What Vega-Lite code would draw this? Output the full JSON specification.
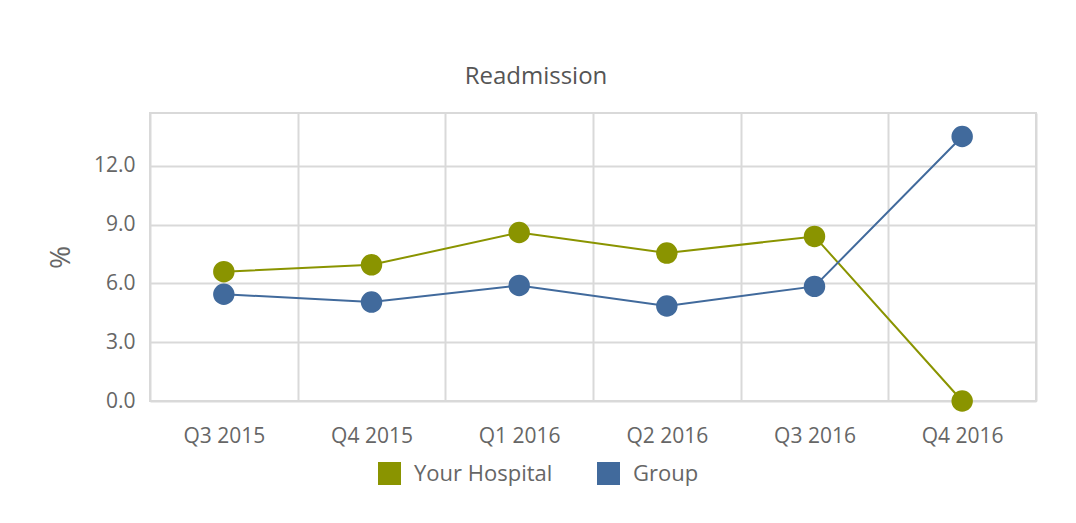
{
  "$schema": "https://vega.github.io/schema/vega-lite/v6.json",
  "autosize": {"type": "none"},
  "padding": {"left": 150, "top": 113, "right": 40, "bottom": 122},
  "width": 886,
  "height": 288,
  "background": "white",
  "title": {
    "text": "Readmission",
    "font": "Open Sans",
    "fontSize": 24,
    "fontWeight": "normal",
    "color": "#555555",
    "anchor": "middle",
    "dx": -57,
    "offset": 24
  },
  "data": {
    "values": [
      {"quarter": "Q3 2015", "series": "Your Hospital", "value": 6.6},
      {"quarter": "Q4 2015", "series": "Your Hospital", "value": 6.95},
      {"quarter": "Q1 2016", "series": "Your Hospital", "value": 8.6},
      {"quarter": "Q2 2016", "series": "Your Hospital", "value": 7.55},
      {"quarter": "Q3 2016", "series": "Your Hospital", "value": 8.4},
      {"quarter": "Q4 2016", "series": "Your Hospital", "value": 0.0},
      {"quarter": "Q3 2015", "series": "Group", "value": 5.45},
      {"quarter": "Q4 2015", "series": "Group", "value": 5.05},
      {"quarter": "Q1 2016", "series": "Group", "value": 5.9},
      {"quarter": "Q2 2016", "series": "Group", "value": 4.85},
      {"quarter": "Q3 2016", "series": "Group", "value": 5.85},
      {"quarter": "Q4 2016", "series": "Group", "value": 13.5}
    ]
  },
  "encoding": {
    "x": {
      "field": "quarter",
      "type": "ordinal",
      "sort": ["Q3 2015", "Q4 2015", "Q1 2016", "Q2 2016", "Q3 2016", "Q4 2016"],
      "scale": {"type": "band", "paddingInner": 0, "paddingOuter": 0},
      "axis": {
        "title": null,
        "labelAngle": 0,
        "labelFont": "Open Sans",
        "labelFontSize": 21,
        "labelColor": "#666666",
        "labelPadding": 24,
        "domain": false,
        "ticks": false,
        "grid": true,
        "tickBand": "extent",
        "gridColor": "#d9d9d9",
        "gridWidth": 2
      }
    },
    "y": {
      "field": "value",
      "type": "quantitative",
      "scale": {"domain": [0, 14.7], "nice": false, "zero": true},
      "axis": {
        "title": "%",
        "titleFont": "Open Sans",
        "titleFontSize": 28,
        "titleFontWeight": "normal",
        "titleColor": "#666666",
        "titlePadding": 18,
        "values": [0, 3, 6, 9, 12],
        "format": ".1f",
        "labelFont": "Open Sans",
        "labelFontSize": 21,
        "labelColor": "#666666",
        "labelPadding": 15,
        "domain": false,
        "ticks": false,
        "grid": true,
        "gridColor": "#d9d9d9",
        "gridWidth": 2
      }
    },
    "color": {
      "field": "series",
      "type": "nominal",
      "scale": {"domain": ["Your Hospital", "Group"], "range": ["#8a9400", "#416a9c"]},
      "legend": {
        "title": null,
        "orient": "none",
        "direction": "horizontal",
        "legendX": 228,
        "legendY": 349,
        "symbolType": "square",
        "symbolSize": 529,
        "symbolStrokeWidth": 0,
        "symbolOpacity": 1,
        "labelFont": "Open Sans",
        "labelFontSize": 22,
        "labelColor": "#666666",
        "labelOffset": 13,
        "columnPadding": 44
      }
    }
  },
  "layer": [
    {"mark": {"type": "line", "strokeWidth": 2}},
    {"mark": {"type": "point", "filled": true, "size": 460, "opacity": 1}}
  ],
  "config": {
    "view": {"stroke": "#d9d9d9", "strokeWidth": 2}
  }
}
